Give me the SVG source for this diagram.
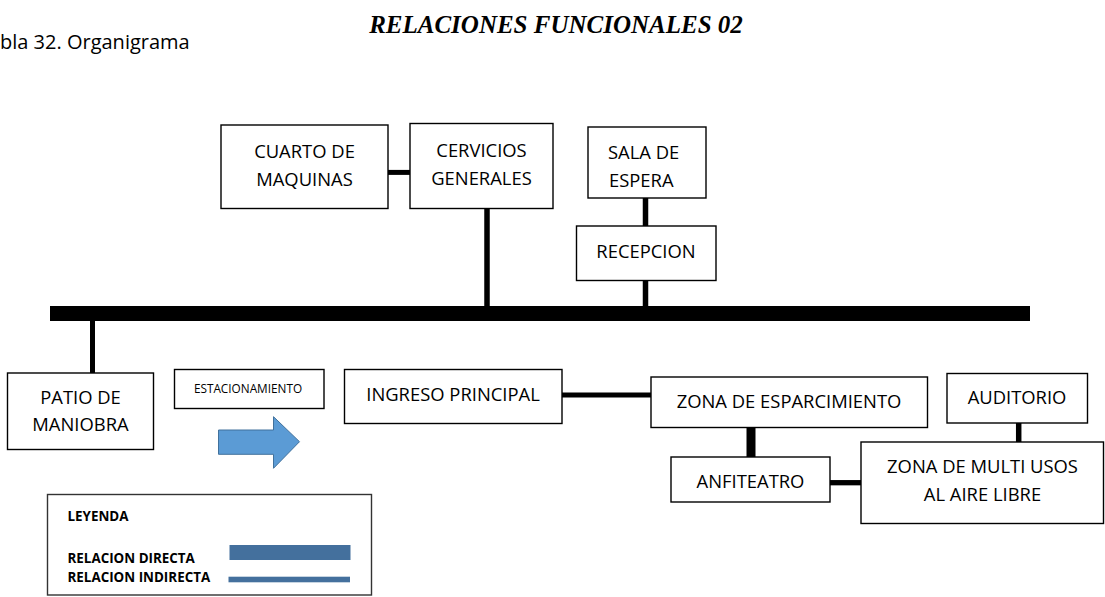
<svg xmlns="http://www.w3.org/2000/svg" width="1105" height="597" viewBox="0 0 1105 597">
<defs>
<style>
.box{fill:#fff;stroke:#000;stroke-width:1.4}
.t{font-family:"Open Sans","Liberation Sans",sans-serif;font-size:18.4px;fill:#000;text-anchor:middle}
.ln{stroke:#000;fill:none}
.lg{font-family:"Open Sans","Liberation Sans",sans-serif;font-size:13.4px;font-weight:bold;fill:#000}
</style>
</defs>
<rect width="1105" height="597" fill="#fff"/>
<text x="556" y="33" font-family="Liberation Serif,serif" font-size="25" font-weight="bold" font-style="italic" text-anchor="middle">RELACIONES FUNCIONALES 02</text>
<text x="0" y="49" font-family="Open Sans,Liberation Sans,sans-serif" font-size="20">bla 32. Organigrama</text>

<g id="connectors">
<rect x="50" y="306" width="980" height="15" fill="#000"/>
<line class="ln" x1="388" y1="172.4" x2="410" y2="172.4" stroke-width="5"/>
<line class="ln" x1="487" y1="208" x2="487" y2="307" stroke-width="5.5"/>
<line class="ln" x1="645.5" y1="198" x2="645.5" y2="226" stroke-width="5.5"/>
<line class="ln" x1="645.5" y1="280" x2="645.5" y2="307" stroke-width="5.5"/>
<line class="ln" x1="92.5" y1="320" x2="92.5" y2="373" stroke-width="5"/>
<line class="ln" x1="562" y1="395" x2="651" y2="395" stroke-width="5"/>
<line class="ln" x1="751" y1="427" x2="751" y2="457" stroke-width="9"/>
<line class="ln" x1="830" y1="482.7" x2="861" y2="482.7" stroke-width="5.3"/>
<line class="ln" x1="1018.7" y1="423" x2="1018.7" y2="442" stroke-width="5.5"/>
</g>

<g id="cuarto">
<rect class="box" x="221" y="125" width="167" height="83.5"/>
<text class="t" x="304.5" y="158">CUARTO DE</text>
<text class="t" x="304.5" y="186">MAQUINAS</text>
</g>
<g id="cervicios">
<rect class="box" x="410" y="123.5" width="143" height="85"/>
<text class="t" x="481.5" y="156.5">CERVICIOS</text>
<text class="t" x="481.5" y="184.5">GENERALES</text>
</g>
<g id="sala">
<rect class="box" x="588" y="127" width="118" height="71"/>
<text class="t" x="608" y="159" style="text-anchor:start">SALA DE</text>
<text class="t" x="609" y="187" style="text-anchor:start">ESPERA</text>
</g>
<g id="recepcion">
<rect class="box" x="576.5" y="226" width="139.5" height="54.5"/>
<text class="t" x="646" y="258">RECEPCION</text>
</g>
<g id="patio">
<rect class="box" x="7.5" y="373" width="146" height="76.5"/>
<text class="t" x="80.5" y="403.5">PATIO DE</text>
<text class="t" x="80.5" y="431">MANIOBRA</text>
</g>
<g id="estacionamiento">
<rect class="box" x="174.5" y="369.5" width="149.5" height="39"/>
<text class="t" x="248" y="393" style="font-size:11.8px">ESTACIONAMIENTO</text>
</g>
<g id="flecha">
<polygon points="218.5,430 273.5,430 273.5,416.7 299.5,441.7 273.5,468.3 273.5,454.3 218.5,454.3" fill="#5B9BD5" stroke="#41719C" stroke-width="1"/>
</g>
<g id="ingreso">
<rect class="box" x="344.5" y="369.5" width="217.5" height="54"/>
<text class="t" x="453" y="401">INGRESO PRINCIPAL</text>
</g>
<g id="esparcimiento">
<rect class="box" x="651" y="377" width="276.5" height="50.5"/>
<text class="t" x="789" y="408">ZONA DE ESPARCIMIENTO</text>
</g>
<g id="auditorio">
<rect class="box" x="947" y="373.5" width="140.5" height="49.5"/>
<text class="t" x="1017" y="404">AUDITORIO</text>
</g>
<g id="anfiteatro">
<rect class="box" x="671" y="457" width="159" height="45"/>
<text class="t" x="750.5" y="488">ANFITEATRO</text>
</g>
<g id="multiusos">
<rect class="box" x="861" y="442" width="242.5" height="81.5"/>
<text class="t" x="982.5" y="472.5">ZONA DE MULTI USOS</text>
<text class="t" x="982.5" y="501">AL AIRE LIBRE</text>
</g>
<g id="leyenda">
<rect x="47.5" y="494.5" width="324" height="100.5" fill="#fff" stroke="#333" stroke-width="1.4"/>
<text class="lg" x="67.5" y="521">LEYENDA</text>
<text class="lg" x="67.5" y="562.5">RELACION DIRECTA</text>
<text class="lg" x="67.5" y="581.5">RELACION INDIRECTA</text>
<rect x="229.5" y="545" width="121" height="15" fill="#44709D"/>
<rect x="228.5" y="576.7" width="121.5" height="5.6" fill="#44709D"/>
</g>
</svg>
